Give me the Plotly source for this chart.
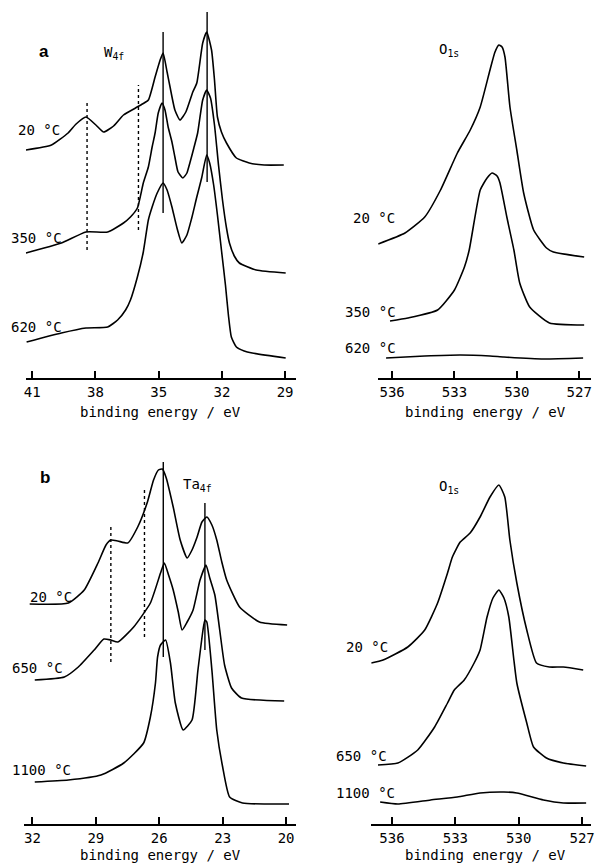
import plotly.graph_objects as go

W = 596
H = 865
MONO = "DejaVu Sans Mono"

# ---------------- W4f spectra (binding energy eV, intensity a.u.) ----------------
w20_x = [41.3, 40.09, 39.30, 38.92, 38.45, 37.98, 37.61, 37.14, 36.67, 36.10, 35.77, 35.49, 35.17, 34.93, 34.79,
         34.60, 34.46, 34.23, 33.99, 33.71, 33.38, 33.19, 32.91, 32.72, 32.49, 32.35, 32.21, 32.02, 31.78, 31.31,
         30.70, 29.99, 29.06]
w20_y = [228, 233, 245, 254, 261, 253, 246, 252, 263, 270, 274, 278, 301, 318, 325,
         306, 291, 268, 258, 266, 286, 295, 335, 346, 328, 298, 261, 246, 235, 220,
         215, 213, 213]

w350_x = [41.3, 39.62, 38.45, 37.42, 36.67, 36.34, 36.01, 35.73, 35.49, 35.31, 35.17, 35.02, 34.84, 34.70, 34.55,
          34.37, 34.23, 34.08, 33.85, 33.66, 33.52, 33.33, 33.15, 32.91, 32.72, 32.54, 32.35, 32.16, 31.97, 31.78,
          31.64, 31.41, 31.17, 30.37, 28.97]
w350_y = [125, 135, 146, 146, 155, 161, 170, 195, 211, 231, 245, 265, 275, 268, 251,
          236, 221, 206, 200, 205, 215, 230, 245, 278, 288, 280, 253, 213, 178, 150,
          135, 122, 115, 108, 105]

w620_x = [41.27, 39.62, 38.45, 37.42, 36.95, 36.57, 36.34, 36.01, 35.73, 35.49, 35.31, 35.07, 34.79, 34.60, 34.37,
          34.13, 33.90, 33.66, 33.43, 33.19, 32.96, 32.72, 32.58, 32.39, 32.21, 32.02, 31.83, 31.69, 31.55, 31.31,
          30.94, 30.56, 28.97]
w620_y = [36, 45, 50, 51, 58, 68, 78, 101, 126, 158, 171, 185, 195, 188, 171,
          150, 135, 143, 160, 181, 200, 223, 215, 193, 163, 128, 93, 63, 41, 31,
          27, 25, 20]

w_solid = [34.79, 32.70]
w_solid_lo = [165, 196]
w_solid_hi = [346, 366]
w_dot = [38.40, 35.96]
w_dot_lo = [128, 148]
w_dot_hi = [278, 293]

# ---------------- O1s (top) ----------------
oa20_x = [536.67, 535.38, 534.43, 533.67, 532.86, 532.24, 531.76, 531.29, 531.05, 530.86, 530.71, 530.57, 530.33,
          530.00, 529.67, 529.19, 528.57, 528.24, 526.76]
oa20_y = [134, 145, 161, 188, 225, 248, 271, 308, 326, 333, 331, 321, 271, 228, 185, 148, 130, 126, 121]

oa350_x = [536.10, 535.24, 533.81, 533.00, 532.52, 532.29, 531.76, 531.43, 531.19, 530.95, 530.81, 530.48, 530.14,
           529.86, 529.38, 528.43, 526.76]
oa350_y = [57, 60, 68, 88, 111, 128, 188, 200, 205, 202, 195, 161, 128, 95, 71, 55, 53]

oa620_x = [536.29, 534.43, 532.71, 531.29, 530.62, 528.71, 526.81]
oa620_y = [20, 22, 23, 22, 21, 19, 20]

# ---------------- Ta4f spectra ----------------
t20_x = [32.13, 30.30, 29.55, 28.90, 28.52, 28.29, 27.96, 27.49, 27.02, 26.56, 26.27, 26.04, 25.85, 25.67, 25.34,
         25.01, 24.68, 24.45, 24.21, 23.98, 23.75, 23.51, 23.28, 23.04, 22.81, 22.20, 21.26, 19.95]
t20_y = [220, 221, 234, 261, 279, 284, 283, 281, 297, 322, 344, 354, 355, 346, 317,
         284, 266, 274, 287, 302, 307, 299, 284, 262, 244, 217, 202, 199]

t650_x = [31.89, 30.49, 29.83, 29.08, 28.62, 28.29, 27.96, 27.21, 26.42, 25.94, 25.76, 25.56, 25.34, 25.10, 24.92,
          24.68, 24.40, 24.07, 23.79, 23.61, 23.37, 23.14, 22.91, 22.58, 22.11, 20.09]
t650_y = [144, 147, 157, 174, 185, 184, 182, 197, 221, 251, 261, 249, 234, 212, 194,
          202, 214, 244, 259, 246, 229, 194, 159, 136, 126, 123]

t1100_x = [31.89, 30.30, 28.76, 27.68, 26.74, 26.42, 26.18, 26.08, 25.94, 25.70, 25.47, 25.24, 24.87, 24.45, 24.17,
           23.93, 23.84, 23.75, 23.51, 23.28, 23.00, 22.67, 22.06, 19.86]
t1100_y = [42, 44, 49, 61, 81, 107, 141, 167, 179, 184, 161, 121, 94, 104, 154,
           194, 204, 202, 154, 94, 57, 27, 21, 20]

t_solid = [25.81, 23.84]
t_solid_lo = [167, 174]
t_solid_hi = [362, 321]
t_dot = [28.29, 26.70]
t_dot_lo = [162, 187]
t_dot_hi = [299, 334]

# ---------------- O1s (bottom) ----------------
ob20_x = [536.98, 536.42, 535.25, 534.45, 533.84, 533.37, 533.14, 532.77, 532.30, 531.83, 531.36, 530.94, 530.66,
          530.42, 530.09, 529.62, 529.16, 528.55, 527.89, 526.95]
ob20_y = [161, 164, 177, 194, 221, 251, 267, 282, 291, 307, 327, 339, 327, 284, 241, 194, 161, 157, 157, 154]

ob650_x = [536.66, 535.72, 534.78, 533.98, 533.37, 533.05, 532.58, 532.11, 531.83, 531.50, 531.22, 530.94, 530.70,
           530.47, 530.23, 530.09, 529.62, 529.30, 528.69, 527.89, 526.81]
ob650_y = [59, 61, 74, 97, 121, 134, 144, 161, 174, 207, 226, 234, 226, 207, 164, 141, 101, 77, 66, 61, 58]

ob1100_x = [536.56, 535.72, 534.17, 532.91, 531.83, 530.70, 530.09, 528.83, 527.89, 526.81]
ob1100_y = [22, 20, 24, 27, 31, 32, 31, 24, 21, 21]

w_ticks = [41, 38, 35, 32, 29]
ta_ticks = [32, 29, 26, 23, 20]
o_ticks = [536, 533, 530, 527]

fig = go.Figure()
LW = 1.6


def curve(x, y, ax):
    fig.add_trace(go.Scatter(x=x, y=y, mode="lines", xaxis="x" + ax, yaxis="y" + ax,
                             line=dict(color="black", width=LW, shape="spline", smoothing=0.5),
                             showlegend=False, hoverinfo="skip"))


curve(w20_x, w20_y, "")
curve(w350_x, w350_y, "")
curve(w620_x, w620_y, "")
curve(oa20_x, oa20_y, "2")
curve(oa350_x, oa350_y, "2")
curve(oa620_x, oa620_y, "2")
curve(t20_x, t20_y, "3")
curve(t650_x, t650_y, "3")
curve(t1100_x, t1100_y, "3")
curve(ob20_x, ob20_y, "4")
curve(ob650_x, ob650_y, "4")
curve(ob1100_x, ob1100_y, "4")

shapes = []


def vlines(xs, lo, hi, ax, dash, width):
    for x0, a, b in zip(xs, lo, hi):
        shapes.append(dict(type="line", xref="x" + ax, yref="y" + ax, x0=x0, x1=x0, y0=a, y1=b,
                           line=dict(color="black", width=width, dash=dash)))


vlines(w_solid, w_solid_lo, w_solid_hi, "", "solid", 1.4)
vlines(w_dot, w_dot_lo, w_dot_hi, "", "dot", 1.4)
vlines(t_solid, t_solid_lo, t_solid_hi, "3", "solid", 1.4)
vlines(t_dot, t_dot_lo, t_dot_hi, "3", "dot", 1.4)


def xa(domain, rng, ticks):
    return dict(domain=domain, range=rng, tickvals=ticks, ticktext=[str(t) for t in ticks],
                showline=True, linecolor="black", linewidth=1.5, ticks="inside", ticklen=7,
                tickwidth=1.5, tickcolor="black", showgrid=False, zeroline=False,
                ticklabeloverflow="allow",
                tickfont=dict(family=MONO, size=14, color="black"), fixedrange=True)


def ya(domain, rng, anchor):
    return dict(domain=domain, range=rng, visible=False, showgrid=False, zeroline=False, anchor=anchor)


top_dom = [1 - 378 / H, 1.0]
bot_dom = [1 - 824 / H, 1 - 440 / H]

annotations = []


def txt(x, y, s, size=14, family=MONO, xanchor="center"):
    annotations.append(dict(x=x / W, y=1 - y / H, xref="paper", yref="paper", text=s, showarrow=False,
                            xanchor=xanchor, yanchor="middle",
                            font=dict(family=family, size=size, color="black")))


for cx, cy in [(160, 412), (488, 412), (160, 855), (488, 855)]:
    txt(cx, cy, "binding energy / eV")

txt(42, 52, "<b>a</b>", size=17, family="Liberation Sans")
txt(113, 53, "W<sub>4f</sub>")
txt(14, 130, "20 °C", xanchor="left")
txt(7, 238, "350 °C", xanchor="left")
txt(7, 327, "620 °C", xanchor="left")

txt(452, 50, "O<sub>1s</sub>")
txt(353, 218, "20 °C", xanchor="left")
txt(344, 312, "350 °C", xanchor="left")
txt(344, 348, "620 °C", xanchor="left")

txt(43, 478, "<b>b</b>", size=17, family="Liberation Sans")
txt(197, 485, "Ta<sub>4f</sub>")
txt(26, 597, "20 °C", xanchor="left")
txt(8, 668, "650 °C", xanchor="left")
txt(8, 770, "1100 °C", xanchor="left")

txt(452, 487, "O<sub>1s</sub>")
txt(345, 647, "20 °C", xanchor="left")
txt(335, 756, "650 °C", xanchor="left")
txt(335, 793, "1100 °C", xanchor="left")

fig.update_layout(
    width=W, height=H, margin=dict(l=0, r=0, t=0, b=0),
    paper_bgcolor="white", plot_bgcolor="rgba(0,0,0,0)",
    xaxis=xa([24 / W, 297 / W], [41.31, 28.48], w_ticks) | dict(anchor="y"),
    yaxis=ya(top_dom, [0, 378], "x"),
    xaxis2=xa([380 / W, 595 / W], [536.67, 526.43], o_ticks) | dict(anchor="y2"),
    yaxis2=ya(top_dom, [0, 378], "x2"),
    xaxis3=xa([22 / W, 297 / W], [32.41, 19.53], ta_ticks) | dict(anchor="y3"),
    yaxis3=ya(bot_dom, [0, 384], "x3"),
    xaxis4=xa([373 / W, 595 / W], [536.98, 526.58], o_ticks) | dict(anchor="y4"),
    yaxis4=ya(bot_dom, [0, 384], "x4"),
    shapes=shapes, annotations=annotations,
)

fig.write_html("out.html")
